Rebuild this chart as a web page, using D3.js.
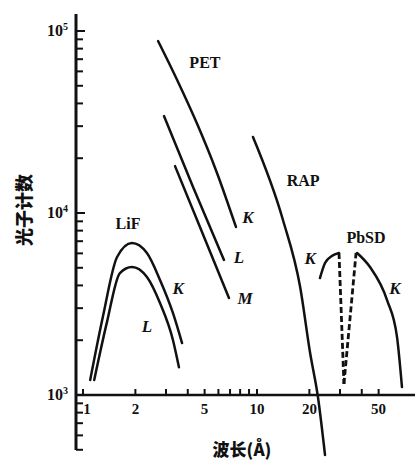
<!DOCTYPE html>
<html>
<head>
<meta charset="utf-8">
<script src="https://cdn.jsdelivr.net/npm/d3@7"></script>
<style>
	body { margin: 0; background: #fff; }
	svg { display: block; }
	.curve { fill: none; stroke: #111; stroke-width: 2.5; stroke-linecap: round; }
	.dash { stroke-dasharray: 6 3; stroke-linecap: butt; stroke-width: 2.8; }
	.lbl { font-family: 'Liberation Serif', serif; font-weight: bold; fill: #111; }
</style>
</head>
<body>
<svg id="chart"></svg>
<script>
/*=================
=== Data (wavelength in Å, photon counts)
=================*/
var lifK = [[1.10, 1210], [1.30, 2680], [1.57, 5730], [1.91, 6840], [2.33, 6030], [2.77, 4290], [3.29, 2820], [3.71, 1930]];
var lifL = [[1.16, 1210], [1.37, 2490], [1.63, 4680], [1.91, 5050], [2.33, 4450], [2.77, 3200], [3.29, 2000], [3.56, 1420]];

var petK = [[2.70, 88100], [3.47, 54000], [4.52, 31000], [5.89, 16600], [7.57, 8380]];
var petL = [[2.92, 34100], [4.29, 13900], [6.46, 5520]];
var petM = [[3.38, 18100], [4.83, 7870], [6.90, 3410]];

var rapK = [[9.48, 26150], [14.1, 9150], [17.7, 3920], [20.2, 1700], [22.4, 975], [24.6, 468]];

var pbsdLeft = [[23.0, 4390], [24.6, 5310], [26.9, 5800], [29.6, 6030]];
var pbsdDashA = [[29.6, 6030], [31.6, 1150]];
var pbsdDashB = [[31.6, 1150], [37.1, 6030]];
var pbsdRight = [[37.6, 6030], [44.6, 5050], [55.9, 3325], [63.8, 2080], [68.1, 1106]];

var xTickLabels = [1, 2, 5, 10, 20, 50];
var xTicks = [1, 2, 3, 4, 5, 6, 7, 8, 9, 10, 20, 30, 40, 50];
var yTickLabels = [3, 4, 5]; // powers of ten

// annotation texts: [text, wavelength, counts, italic]
var notes = [
	['PET', 5.02, 67600, false],
	['K', 8.87, 9510, true],
	['L', 7.88, 5730, true],
	['M', 8.53, 3410, true],
	['LiF', 1.815, 8810, false],
	['K', 3.52, 3870, true],
	['L', 2.33, 2390, true],
	['RAP', 18.4, 15200, false],
	['K', 20.2, 5660, true],
	['PbSD', 42.3, 7380, false],
	['K', 62.1, 3870, true]
];

/*=================
=== Setup
=================*/
var W = 415, H = 460;
var svg = d3.select('#chart').attr('width', W).attr('height', H);

var x = d3.scaleLog().domain([1, 10]).range([83, 257]);
var y = d3.scaleLog().domain([1000, 100000]).range([395, 31]);

var axX = 76, axY = 395;

var line = d3.line()
	.x(d => x(d[0]))
	.y(d => y(d[1]))
	.curve(d3.curveMonotoneX);

var straight = d3.line()
	.x(d => x(d[0]))
	.y(d => y(d[1]));

/*=================
=== Axes
=================*/
var axes = svg.append('g').attr('stroke', '#111');

axes.append('line')
	.attr('x1', axX).attr('x2', axX)
	.attr('y1', 14).attr('y2', 450)
	.attr('stroke-width', 3);

axes.append('line')
	.attr('x1', axX).attr('x2', W)
	.attr('y1', axY).attr('y2', axY)
	.attr('stroke-width', 2.5);

// y minor ticks from 500 up to 1e5
var yTicks = [];
[100, 1000, 10000].forEach(dec => {
	for (var k = 1; k < 10; k++) yTicks.push(dec * k);
});
yTicks.push(100000);
yTicks = yTicks.filter(v => v >= 500);

axes.selectAll('.ytick')
	.data(yTicks)
	.enter()
	.append('line')
	.attr('x1', axX)
	.attr('x2', d => axX + (Math.log10(d) % 1 === 0 ? 9 : 7))
	.attr('y1', d => y(d))
	.attr('y2', d => y(d))
	.attr('stroke-width', 2);

axes.selectAll('.xtick')
	.data(xTicks)
	.enter()
	.append('line')
	.attr('x1', d => x(d))
	.attr('x2', d => x(d))
	.attr('y1', axY)
	.attr('y2', axY - 6)
	.attr('stroke-width', 2);

svg.selectAll('.xlab')
	.data(xTickLabels)
	.enter()
	.append('text')
	.attr('class', 'lbl')
	.attr('x', d => x(d) + (d === 1 ? 4 : 0))
	.attr('y', 414)
	.attr('text-anchor', 'middle')
	.attr('font-size', 15)
	.text(d => d);

var yl = svg.selectAll('.ylab')
	.data(yTickLabels)
	.enter()
	.append('text')
	.attr('class', 'lbl')
	.attr('x', 68)
	.attr('y', d => y(Math.pow(10, d)) + 5)
	.attr('text-anchor', 'end')
	.attr('font-size', 16);
yl.append('tspan').text('10');
yl.append('tspan').attr('font-size', 10).attr('dy', -6).text(d => d);

// axis titles
svg.append('text')
	.attr('transform', 'translate(31,210) rotate(-90)')
	.attr('text-anchor', 'middle')
	.attr('font-family', "'Noto Sans CJK SC', sans-serif")
	.attr('font-weight', 900)
	.attr('font-size', 18)
	.attr('fill', '#111')
	.text('光子计数');

svg.append('text')
	.attr('x', 242)
	.attr('y', 456)
	.attr('text-anchor', 'middle')
	.attr('font-family', "'Noto Sans CJK SC', sans-serif")
	.attr('font-weight', 900)
	.attr('font-size', 17)
	.attr('fill', '#111')
	.text('波长(Å)');

/*=================
=== Curves
=================*/
var curves = svg.append('g');

[lifK, lifL, petK, petL, petM, rapK, pbsdLeft, pbsdRight].forEach(d => {
	curves.append('path')
		.datum(d)
		.attr('class', 'curve')
		.attr('d', line);
});

[pbsdDashA, pbsdDashB].forEach(d => {
	curves.append('path')
		.datum(d)
		.attr('class', 'curve dash')
		.attr('d', straight);
});

svg.selectAll('.note')
	.data(notes)
	.enter()
	.append('text')
	.attr('class', 'lbl')
	.attr('x', d => x(d[1]))
	.attr('y', d => y(d[2]))
	.attr('dy', '0.35em')
	.attr('text-anchor', 'middle')
	.attr('font-size', d => d[3] ? 17 : 16)
	.attr('font-style', d => d[3] ? 'italic' : 'normal')
	.text(d => d[0]);
</script>
</body>
</html>
